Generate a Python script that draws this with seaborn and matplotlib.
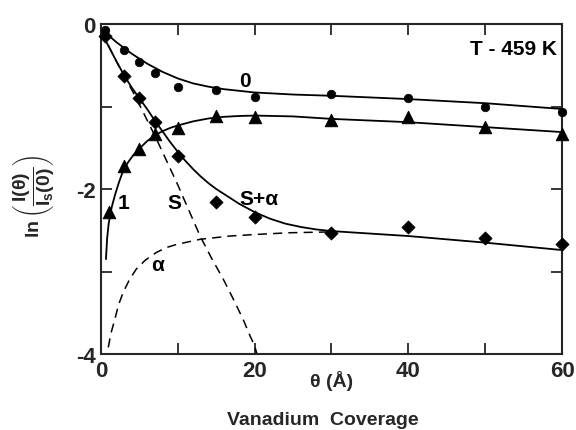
import matplotlib
matplotlib.use("Agg")
import matplotlib.pyplot as plt
import seaborn as sns
import numpy as np
import pandas as pd
from matplotlib.ticker import MultipleLocator

# ---- data ----
x_pts = [0.5, 3, 5, 7, 10, 15, 20, 30, 40, 50, 60]
y_zero = [-0.07, -0.32, -0.46, -0.59, -0.76, -0.80, -0.88, -0.85, -0.90, -1.00, -1.07]

x_one = [1, 3, 5, 7, 10, 15, 20, 30, 40, 50, 60]
y_one = [-2.28, -1.72, -1.52, -1.33, -1.26, -1.12, -1.13, -1.16, -1.13, -1.25, -1.33]

x_sa = [0.5, 3, 5, 7, 10, 15, 20, 30, 40, 50, 60]
y_sa = [-0.14, -0.63, -0.90, -1.19, -1.60, -2.16, -2.34, -2.53, -2.46, -2.59, -2.67]

# solid fitted curves
cx_zero = [0, 1, 2, 3, 4, 5, 6, 7, 8, 9, 10, 12, 14, 16, 18, 20, 25, 30, 40, 50, 60]
cy_zero = [-0.06, -0.14, -0.22, -0.29, -0.36, -0.42, -0.48, -0.53, -0.58, -0.62, -0.66,
           -0.72, -0.76, -0.79, -0.81, -0.83, -0.855, -0.87, -0.91, -0.96, -1.03]

cx_one = [0.65, 0.8, 1.0, 1.4, 1.8, 2.3, 2.8, 3.5, 4.2, 5, 6, 7, 8, 9, 10, 12, 14, 16, 18,
          20, 25, 30, 40, 50, 60]
cy_one = [-2.85, -2.60, -2.42, -2.22, -2.08, -1.93, -1.80, -1.68, -1.59, -1.51, -1.42,
          -1.35, -1.30, -1.26, -1.23, -1.18, -1.145, -1.125, -1.115, -1.11, -1.12, -1.15,
          -1.19, -1.25, -1.31]

cx_sa = [0, 1, 2, 3, 4, 5, 6, 7, 8, 9, 10, 11, 12, 13, 14, 15, 16, 17, 18, 19, 20, 22, 24,
         26, 28, 30, 40, 50, 60]
cy_sa = [-0.10, -0.27, -0.45, -0.62, -0.77, -0.90, -1.03, -1.17, -1.30, -1.43, -1.55,
         -1.66, -1.76, -1.85, -1.93, -2.00, -2.06, -2.12, -2.18, -2.23, -2.28, -2.36,
         -2.42, -2.46, -2.49, -2.51, -2.57, -2.65, -2.74]

# dashed components
cx_s = [0, 1, 2, 3, 4.2, 5.5, 7.2, 8.5, 9.9, 11.4, 12.9, 14.4, 15.9, 17.2, 18.5, 19.4, 20.0, 20.3]
cy_s = [-0.10, -0.27, -0.45, -0.63, -0.83, -1.07, -1.39, -1.65, -1.93, -2.25, -2.57, -2.84,
        -3.09, -3.33, -3.58, -3.78, -3.90, -4.00]

cx_a = [0.95, 1.3, 1.8, 2.3, 2.9, 3.7, 4.6, 5.8, 7.2, 8.5, 9.9, 12.9, 16.8, 20.3, 24.6, 30]
cy_a = [-3.92, -3.75, -3.58, -3.40, -3.25, -3.10, -2.97, -2.86, -2.77, -2.71, -2.67, -2.61,
        -2.57, -2.55, -2.53, -2.52]

xticks = [0, 20, 40, 60]
yticks = [0, -2, -4]

# ---- plotting ----
sns.set_style("ticks")
plt.rcParams['font.family'] = ['Liberation Sans', 'DejaVu Sans']
plt.rcParams['font.weight'] = 'bold'
plt.rcParams['axes.unicode_minus'] = False
plt.rcParams['mathtext.fontset'] = 'custom'
plt.rcParams['mathtext.rm'] = 'Liberation Sans:bold'
plt.rcParams['mathtext.it'] = 'Liberation Sans:bold'
plt.rcParams['mathtext.bf'] = 'Liberation Sans:bold'

fig = plt.figure(figsize=(5.76, 4.31), dpi=100)
ax = fig.add_axes([0.1753, 0.1763, 0.9757 - 0.1753, 0.942 - 0.1763])

lw = 1.3
sns.lineplot(x=cx_zero, y=cy_zero, ax=ax, color='black', lw=lw, estimator=None, sort=False)
sns.lineplot(x=cx_one, y=cy_one, ax=ax, color='black', lw=lw, estimator=None, sort=False)
sns.lineplot(x=cx_sa, y=cy_sa, ax=ax, color='black', lw=lw, estimator=None, sort=False)
sns.lineplot(x=cx_s, y=cy_s, ax=ax, color='black', lw=1.1, estimator=None, sort=False,
             linestyle=(0, (6, 4)))
sns.lineplot(x=cx_a, y=cy_a, ax=ax, color='black', lw=1.1, estimator=None, sort=False,
             linestyle=(0, (6, 4)))

sns.scatterplot(x=x_pts, y=y_zero, ax=ax, color='black', marker='o', s=38, edgecolor='black', zorder=5, clip_on=False)
sns.scatterplot(x=x_one, y=y_one, ax=ax, color='black', marker='^', s=80, edgecolor='black', zorder=5, clip_on=False)
sns.scatterplot(x=x_sa, y=y_sa, ax=ax, color='black', marker='D', s=45, edgecolor='black', zorder=5, clip_on=False)

ax.set_xlim(0, 60)
ax.set_ylim(-4, 0)
ax.set_xticks(xticks)
ax.set_yticks(yticks)
ax.xaxis.set_minor_locator(MultipleLocator(10))
ax.yaxis.set_minor_locator(MultipleLocator(1))
ax.tick_params(which='both', direction='in', length=8, width=1.3, top=True, right=True,
               labelsize=16, pad=4)
for lab in ax.get_xticklabels() + ax.get_yticklabels():
    lab.set_fontweight('bold')
for sp in ax.spines.values():
    sp.set_visible(True)
    sp.set_linewidth(1.5)

ax.set_xlabel('')
ax.set_ylabel('')

tkw = dict(fontsize=15, fontweight='bold', color='black')
ax.text(18.7, -0.69, '0', ha='center', va='center', **tkw)
ax.text(2.9, -2.16, '1', ha='center', va='center', **tkw)
ax.text(9.6, -2.16, 'S', ha='center', va='center', **tkw)
ax.text(20.5, -2.12, 'S+α', ha='center', va='center', **tkw)
ax.text(7.3, -2.91, 'α', ha='center', va='center', **tkw)
ax.text(59.3, -0.30, 'T - 459 K', ha='right', va='center', **tkw)

fig.text(0.575, 0.115, 'θ (Å)', ha='center', va='center', fontsize=14, fontweight='bold')
fig.text(0.56, 0.025, 'Vanadium  Coverage', ha='center', va='center', fontsize=14, fontweight='bold')
fig.text(0.058, 0.545, r'$\ln\left(\dfrac{I(\theta)}{I_s(0)}\right)$', rotation=90,
         ha='center', va='center', fontsize=14)

fig.savefig('out.png', dpi=100)
